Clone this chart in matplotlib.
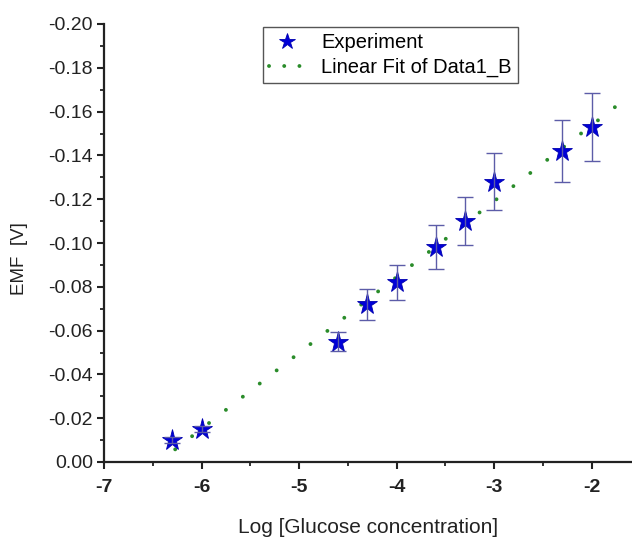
import matplotlib.pyplot as plt
import numpy as np

plt.rcParams['font.family'] = ['Liberation Sans', 'DejaVu Sans']
plt.rcParams['axes.unicode_minus'] = False

# data
log_conc = [-6.3, -6.0, -4.6, -4.3, -4.0, -3.6, -3.3, -3.0, -2.3, -2.0]
emf      = [-0.010, -0.015, -0.055, -0.072, -0.082, -0.098, -0.110, -0.128, -0.142, -0.153]
emf_err  = [0.0012, 0.0015, 0.0045, 0.007, 0.008, 0.010, 0.011, 0.013, 0.014, 0.0155]
fit_span = [-6.27, -1.70]

# linear fit of the experiment points
slope, icpt = np.polyfit(log_conc, emf, 1)
xf = np.array(fit_span)
yf = slope*xf + icpt

fig = plt.figure(figsize=(6.32, 5.38), dpi=100)
ax  = fig.add_axes([104/632., 76/538., 528/632., 438/538.])

ax.plot(xf, yf, color='#2a8c2a', lw=2.8, ls=(0, (0.01, 5.5)),
        dash_capstyle='round', zorder=1, label='Linear Fit of Data1_B')
ax.errorbar(log_conc, emf, yerr=emf_err, fmt='none', ecolor='#5c5ca8',
            elinewidth=1.0, capsize=5.5, capthick=1.0, zorder=3)
ax.plot(log_conc, emf, '*', color='#0000d8', ms=15.5, mec='#0000b0', mew=0.6,
        zorder=2, label='Experiment')

ax.set_xlim(-7, -7 + 528/97.5)
ax.set_ylim(0.0, -0.20)
ax.set_xticks([-7, -6, -5, -4, -3, -2])
ax.set_xticks(np.arange(-6.5, -1.5, 1.0), minor=True)
yt = np.arange(0, -0.201, -0.02)
ax.set_yticks(yt)
ax.set_yticks(np.arange(-0.01, -0.2, -0.02), minor=True)
ax.set_yticklabels(['%.2f' % v if abs(v) > 1e-9 else '0.00' for v in yt])

for s in ['top', 'right']:
    ax.spines[s].set_visible(False)
for s in ['left', 'bottom']:
    ax.spines[s].set_linewidth(1.6)
    ax.spines[s].set_color('#222222')

ax.tick_params(which='major', direction='out', length=5, width=1.5, colors='#222222',
               labelsize=14, labelcolor='#222222')
ax.tick_params(axis='y', which='major', pad=3)
ax.tick_params(axis='x', which='major', pad=7)
ax.tick_params(which='minor', direction='out', length=3, width=1.3, colors='#222222')
for lab in ax.get_xticklabels():
    lab.set_fontweight('bold')
    lab.set_fontsize(14)

ax.set_xlabel('Log [Glucose concentration]', fontsize=15, color='#222222')
ax.set_ylabel('EMF  [V]', fontsize=13.5, color='#222222')
ax.xaxis.set_label_coords(0.5, -(518-462)/438.)
ax.yaxis.set_label_coords(-(104-28)/528., (462-259)/438.)

h, l = ax.get_legend_handles_labels()
leg = ax.legend(h[::-1], l[::-1], loc='upper left', bbox_to_anchor=(263/632., 1-27/538.),
                bbox_transform=fig.transFigure, borderaxespad=0, fancybox=False,
                edgecolor='#555555', framealpha=1, fontsize=14.5, handlelength=1.8,
                handletextpad=0.8, labelspacing=0.3, borderpad=0.3, markerscale=0.75)
leg.get_frame().set_linewidth(1.0)
leg.legend_handles[1].set_linestyle((0, (0.01, 3.9)))

plt.savefig('out.png', dpi=100)
